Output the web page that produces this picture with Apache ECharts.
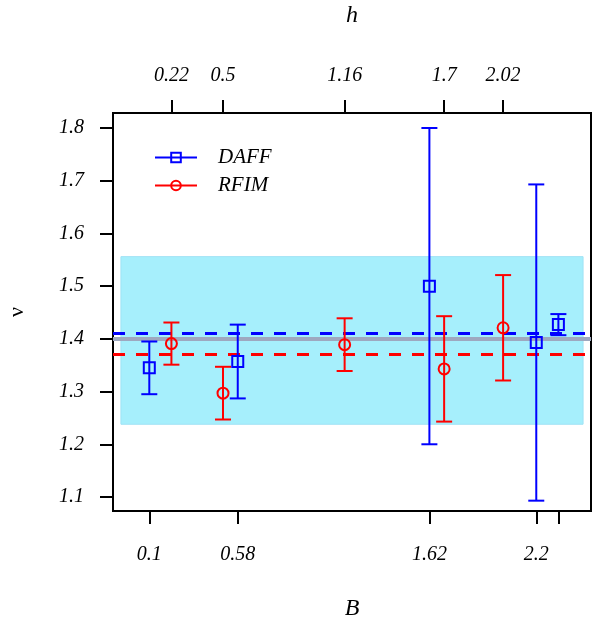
<!DOCTYPE html>
<html>
<head>
<meta charset="utf-8">
<script src="https://cdn.jsdelivr.net/npm/echarts@6/dist/echarts.min.js"></script>
<style>html,body{margin:0;padding:0;background:#fff}#c{width:602px;height:621px}</style>
</head>
<body>
<div id="c"></div>
<script>
// DAFF: x = B, RFIM: x = h
const daffB = [0.1, 0.58, 1.62, 2.2, 2.32];
const daffNu = [1.345, 1.357, 1.5, 1.393, 1.427];
const daffErr = [0.05, 0.07, 0.3, 0.3, 0.02];
const rfimH = [0.22, 0.5, 1.16, 1.7, 2.02];
const rfimNu = [1.391, 1.297, 1.389, 1.343, 1.421];
const rfimErr = [0.04, 0.05, 0.05, 0.1, 0.1];
const bTickLabels = [0.1, 0.58, 1.62, 2.2];
const bTicks = [0.1, 0.58, 1.62, 2.2, 2.32];
const hTicks = [0.22, 0.5, 1.16, 1.7, 2.02];
const yTicks = [1.1, 1.2, 1.3, 1.4, 1.5, 1.6, 1.7, 1.8];
const daffMean = 1.412;
const rfimMean = 1.367;
const combinedMean = 1.397;
const bandY = [1.238, 1.556];
const bandX = [-0.054, 2.454];

const FONT = 'Liberation Serif';
const BLUE = '#0000ff', RED = '#ff0000';

function errData(xs, ys, es) {
  return xs.map((x, i) => [x, ys[i], ys[i] - es[i], ys[i] + es[i]]);
}

function makeRender(color, shape) {
  return function (params, api) {
    const x = api.value(0), y = api.value(1), lo = api.value(2), hi = api.value(3);
    const pc = api.coord([x, y]);
    const pl = api.coord([x, lo]);
    const ph = api.coord([x, hi]);
    const cw = 8, s = 5.5;
    const st = { stroke: color, lineWidth: 2, fill: null };
    const children = [
      { type: 'line', shape: { x1: pl[0], y1: pl[1], x2: ph[0], y2: ph[1] }, style: st },
      { type: 'line', shape: { x1: pl[0] - cw, y1: pl[1], x2: pl[0] + cw, y2: pl[1] }, style: st },
      { type: 'line', shape: { x1: ph[0] - cw, y1: ph[1], x2: ph[0] + cw, y2: ph[1] }, style: st }
    ];
    if (shape === 'rect') {
      children.push({ type: 'rect', shape: { x: pc[0] - s, y: pc[1] - s, width: 2 * s, height: 2 * s }, style: st });
    } else {
      children.push({ type: 'circle', shape: { cx: pc[0], cy: pc[1], r: s }, style: st });
    }
    return { type: 'group', children };
  };
}

const axisCommon = {
  type: 'value',
  min: -0.097,
  max: 2.497,
  splitLine: { show: false },
  axisLine: { show: true, onZero: false, lineStyle: { color: '#000', width: 2 } },
  axisTick: { show: true, length: 13, lineStyle: { color: '#000', width: 2 } },
  nameLocation: 'middle',
  nameTextStyle: { fontFamily: FONT, fontStyle: 'italic', fontSize: 24, color: '#000' }
};

const option = {
  animation: false,
  backgroundColor: '#fff',
  grid: { left: 113, right: 11, top: 113, bottom: 110, outerBoundsMode: 'none', containLabel: false, show: true, borderColor: '#000', borderWidth: 2, backgroundColor: 'transparent' },
  legend: {
    data: ['DAFF', 'RFIM'],
    orient: 'vertical',
    left: 149,
    top: 142,
    itemWidth: 42,
    itemHeight: 12,
    itemGap: 7,
    textStyle: { fontFamily: FONT, fontStyle: 'italic', fontSize: 21, color: '#000', padding: [0, 0, 0, 16], lineHeight: 20 }
  },
  xAxis: [
    Object.assign({}, axisCommon, {
      position: 'bottom',
      name: 'B',
      nameGap: 86,
      axisTick: Object.assign({}, axisCommon.axisTick, { customValues: bTicks }),
      axisLabel: { customValues: bTickLabels, margin: 34, fontFamily: FONT, fontStyle: 'italic', fontSize: 20, color: '#000' }
    }),
    Object.assign({}, axisCommon, {
      position: 'top',
      name: 'h',
      nameGap: 85,
      axisTick: Object.assign({}, axisCommon.axisTick, { customValues: hTicks }),
      axisLabel: { customValues: hTicks, margin: 27, fontFamily: FONT, fontStyle: 'italic', fontSize: 20, color: '#000' }
    })
  ],
  yAxis: {
    type: 'value',
    min: 1.0734,
    max: 1.8285,
    splitLine: { show: false },
    axisLine: { show: true, onZero: false, lineStyle: { color: '#000', width: 2 } },
    axisTick: { show: true, length: 13, customValues: yTicks, lineStyle: { color: '#000', width: 2 } },
    axisLabel: { customValues: yTicks, margin: 29, fontFamily: FONT, fontStyle: 'italic', fontSize: 20, color: '#000', formatter: v => v.toFixed(1) },
    name: 'ν',
    nameLocation: 'middle',
    nameGap: 85,
    nameTextStyle: { fontFamily: FONT, fontSize: 22, color: '#000' }
  },
  series: [
    {
      type: 'line', name: 'band', data: [], silent: true,
      markArea: {
        silent: true,
        itemStyle: { color: '#a6effc', borderColor: '#9fe2f5', borderWidth: 1 },
        data: [[{ coord: [bandX[0], bandY[1]] }, { coord: [bandX[1], bandY[0]] }]]
      },
      markLine: {
        silent: true, symbol: 'none', label: { show: false },
        data: [
          { yAxis: combinedMean, lineStyle: { color: '#9ea8bf', width: 4, type: 'solid' } },
          { yAxis: daffMean, lineStyle: { color: BLUE, width: 3, type: [12, 11] } },
          { yAxis: rfimMean, lineStyle: { color: RED, width: 3, type: [12, 11] } }
        ]
      }
    },
    {
      type: 'line', name: 'DAFF', data: [], symbol: 'rect', symbolSize: 11,
      itemStyle: { color: 'rgba(0,0,0,0)', borderColor: BLUE, borderWidth: 2 },
      lineStyle: { color: BLUE, width: 2 }
    },
    {
      type: 'line', name: 'RFIM', data: [], symbol: 'circle', symbolSize: 11,
      itemStyle: { color: 'rgba(0,0,0,0)', borderColor: RED, borderWidth: 2 },
      lineStyle: { color: RED, width: 2 }
    },
    {
      type: 'custom', name: 'DAFF-err', xAxisIndex: 0,
      renderItem: makeRender(BLUE, 'rect'),
      encode: { x: 0, y: [1, 2, 3] },
      data: errData(daffB, daffNu, daffErr), z: 5
    },
    {
      type: 'custom', name: 'RFIM-err', xAxisIndex: 0,
      renderItem: makeRender(RED, 'circle'),
      encode: { x: 0, y: [1, 2, 3] },
      data: errData(rfimH, rfimNu, rfimErr), z: 5
    }
  ]
};

const chart = echarts.init(document.getElementById('c'), null, { renderer: 'canvas' });
chart.setOption(option);
</script>
</body>
</html>
